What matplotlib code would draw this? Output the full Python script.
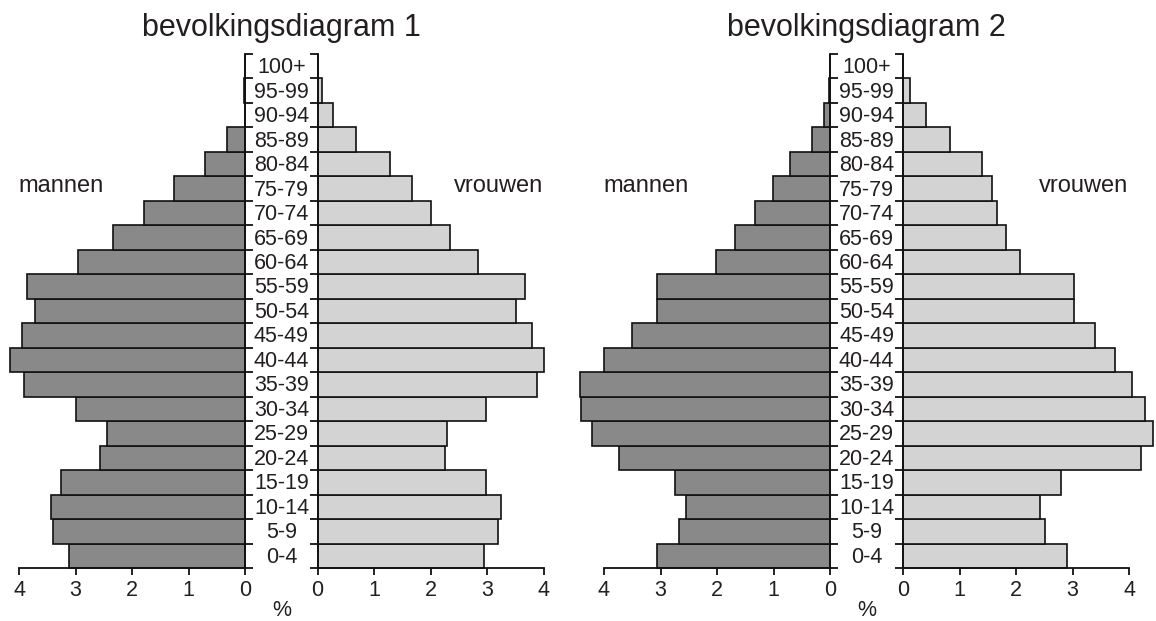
import matplotlib
matplotlib.use("Agg")
import matplotlib.pyplot as plt
from matplotlib import font_manager
from matplotlib.transforms import blended_transform_factory

# ---------------- data ----------------
age_groups = ["0-4", "5-9", "10-14", "15-19", "20-24", "25-29", "30-34", "35-39",
              "40-44", "45-49", "50-54", "55-59", "60-64", "65-69", "70-74",
              "75-79", "80-84", "85-89", "90-94", "95-99", "100+"]

men_1 = [3.12, 3.40, 3.44, 3.26, 2.57, 2.44, 2.99, 3.91, 4.16, 3.95, 3.71,
         3.86, 2.96, 2.33, 1.79, 1.25, 0.70, 0.31, 0.0, 0.02, 0.0]
women_1 = [2.94, 3.20, 3.24, 2.99, 2.25, 2.29, 2.98, 3.89, 4.01, 3.80, 3.52,
           3.68, 2.84, 2.35, 2.00, 1.68, 1.28, 0.68, 0.28, 0.08, 0.0]

men_2 = [3.06, 2.67, 2.54, 2.74, 3.73, 4.21, 4.41, 4.42, 4.00, 3.51, 3.07,
         3.07, 2.01, 1.69, 1.32, 1.01, 0.70, 0.31, 0.11, 0.02, 0.0]
women_2 = [2.91, 2.52, 2.43, 2.79, 4.22, 4.42, 4.29, 4.05, 3.75, 3.39, 3.03,
           3.03, 2.07, 1.83, 1.67, 1.58, 1.39, 0.84, 0.40, 0.13, 0.0]

x_ticks = [0, 1, 2, 3, 4]
titles = ["bevolkingsdiagram 1", "bevolkingsdiagram 2"]
men_label = "mannen"
women_label = "vrouwen"
unit_label = "%"

# ---------------- style ----------------
W, H = 1156, 621
DPI = 100
MEN_COLOR = "#898989"
WOMEN_COLOR = "#d3d3d3"
TEXT_COLOR = "#231f20"

def have_font(name):
    try:
        font_manager.findfont(name, fallback_to_default=False)
        return True
    except Exception:
        return False

NARROW = "Liberation Sans Narrow" if have_font("Liberation Sans Narrow") else None
MAIN = "Liberation Sans" if have_font("Liberation Sans") else "DejaVu Sans"
label_font = NARROW if NARROW else MAIN
label_size = 16 if NARROW else 15.5

fig = plt.figure(figsize=(W / DPI, H / DPI), dpi=DPI)

PX_PER_UNIT = 56.5
XMAX = 4.5
TOP_PX, BOT_PX = 54, 568
n = len(age_groups)
ypos = list(range(n))


def fx(px):
    return px / W


def fy(py):
    return 1 - py / H


def make_axes(zero_px, side):
    width_px = XMAX * PX_PER_UNIT
    left_px = zero_px - width_px if side == "men" else zero_px
    ax = fig.add_axes([fx(left_px), fy(BOT_PX), width_px / W, (BOT_PX - TOP_PX) / H])
    ax.set_facecolor("none")
    ax.set_ylim(-0.5, n - 0.5)
    if side == "men":
        ax.set_xlim(XMAX, 0)
        ax.spines["left"].set_visible(False)
        ax.yaxis.tick_right()
        keep = "right"
    else:
        ax.set_xlim(0, XMAX)
        ax.spines["right"].set_visible(False)
        ax.yaxis.tick_left()
        keep = "left"
    ax.spines["top"].set_visible(False)
    for s in ("bottom", keep):
        ax.spines[s].set_linewidth(1.3)
        ax.spines[s].set_color("#111111")
    ax.spines["bottom"].set_bounds(0, 4)
    ax.set_yticks([i - 0.5 for i in range(n + 1)])
    ax.set_yticklabels([])
    ax.tick_params(axis="y", direction="out", length=6, width=1.3, color="#111111")
    ax.set_xticks(x_ticks)
    ax.set_xticklabels([str(t) for t in x_ticks], fontfamily=label_font,
                       fontsize=label_size, color=TEXT_COLOR)
    ax.tick_params(axis="x", direction="out", length=5, width=1.3, pad=4,
                   color="#111111")
    return ax


panels = [
    dict(men=men_1, women=women_1, men_zero=245, women_zero=317.5, center=281.5,
         title=titles[0], men_x=18, women_x=543),
    dict(men=men_2, women=women_2, men_zero=830, women_zero=903, center=866.5,
         title=titles[1], men_x=603, women_x=1128),
]

for p in panels:
    axm = make_axes(p["men_zero"], "men")
    axw = make_axes(p["women_zero"], "women")
    axm.barh(ypos, p["men"], height=1.0, color=MEN_COLOR, edgecolor="#111111",
             linewidth=1.2, clip_on=False, zorder=2)
    axw.barh(ypos, p["women"], height=1.0, color=WOMEN_COLOR, edgecolor="#111111",
             linewidth=1.2, clip_on=False, zorder=2)

    tr = blended_transform_factory(fig.transFigure, axw.transData)
    for y, lab in zip(ypos, age_groups):
        fig.text(fx(p["center"]), y - 0.06, lab, transform=tr, ha="center", va="center",
                 fontfamily=label_font, fontsize=label_size, color=TEXT_COLOR)

    fig.text(fx(p["center"]), fy(28), p["title"], ha="center", va="center",
             fontfamily=MAIN, fontsize=22, color=TEXT_COLOR)
    fig.text(fx(p["center"]), fy(610), unit_label, ha="center", va="center",
             fontfamily=label_font, fontsize=label_size, color=TEXT_COLOR)
    fig.text(fx(p["men_x"]), fy(186), men_label, ha="left", va="center",
             fontfamily=MAIN, fontsize=17, color=TEXT_COLOR)
    fig.text(fx(p["women_x"]), fy(186), women_label, ha="right", va="center",
             fontfamily=MAIN, fontsize=17, color=TEXT_COLOR)

fig.savefig("out.png", dpi=DPI, facecolor="white")
